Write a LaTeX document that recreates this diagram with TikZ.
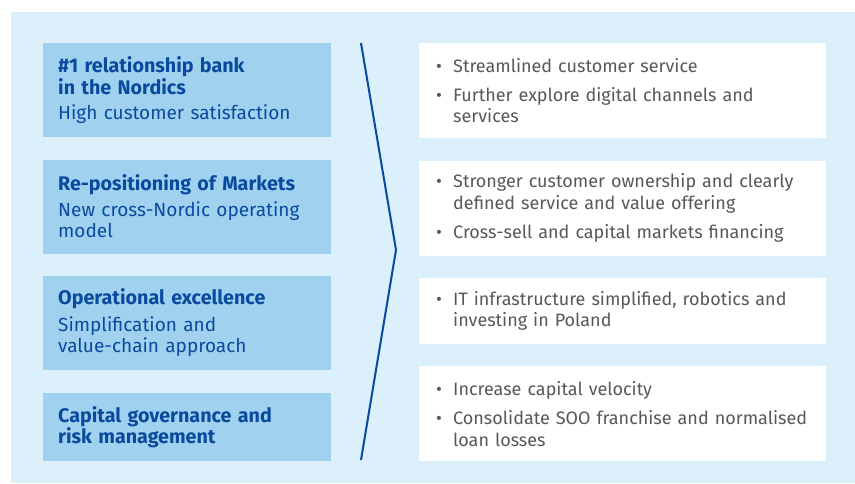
\documentclass[tikz,border=0pt]{standalone}
\usepackage{fontspec}
\setmainfont{Fira Sans}
\usetikzlibrary{positioning}
\definecolor{panelblue}{HTML}{DBF0FB}
\definecolor{goalblue}{HTML}{A0D2F0}
\definecolor{navy}{HTML}{0A4A9E}
\definecolor{greytext}{HTML}{58585A}
\newcommand{\bul}{\makebox[17pt][l]{\textbullet}}
\newcommand{\ind}{\hspace*{17pt}}
\newcommand{\ttl}[1]{{\fontsize{19.7}{21.5}\selectfont\bfseries #1}}

\begin{document}
\begin{tikzpicture}[x=1pt,y=-1pt]
\tikzstyle{goal}=[fill=goalblue, text=navy, text width=258pt, inner xsep=15pt, inner ysep=4pt, minimum height=94pt, align=left, font=\fontsize{19}{21.5}\selectfont]
\tikzstyle{plan}=[fill=white, text=greytext, text width=373pt, inner xsep=17pt, inner ysep=4pt, minimum height=95pt, align=left, font=\fontsize{18}{21.5}\selectfont]

\useasboundingbox (0,0) rectangle (855,483);
\fill[panelblue] (11,12) rectangle (855,483);

\node[goal]         (A) at (43,43) [anchor=north west] {\ttl{\#1 relationship bank}\\ \ttl{in the Nordics}\\[4pt] High customer satisfaction};
\node[goal]         (B) [below=22pt of A] {\ttl{Re-positioning of Markets}\\[4pt] New cross-Nordic operating\\ model};
\node[goal]         (C) [below=22pt of B] {\ttl{Operational excellence}\\[5pt] Simplification and\\ value-chain approach};
\node[goal]         (D) [below=23pt of C, minimum height=68pt] {\ttl{Capital governance and}\\ \ttl{risk management}};

\node[plan]         (E) at (419,43) [anchor=north west] {\bul Streamlined customer service\\[7.5pt] \bul Further explore digital channels and\\ \ind services};
\node[plan]         (F) [below=22pt of E] {\bul Stronger customer ownership and clearly\\ \ind defined service and value offering\\[7.5pt] \bul Cross-sell and capital markets financing};
\node[plan]         (G) [below=22pt of F, minimum height=66pt] {\bul IT infrastructure simplified, robotics and\\ \ind investing in Poland};
\node[plan]         (H) [below=22pt of G] {\bul Increase capital velocity\\[7.5pt] \bul Consolidate SOO franchise and normalised\\ \ind loan losses};

\coordinate (top) at (361,43);
\coordinate (tip) at (396,250);
\coordinate (bot) at (361,460);
\draw[navy, line width=2pt] (top) -- (tip) -- (bot);
\end{tikzpicture}
\end{document}
